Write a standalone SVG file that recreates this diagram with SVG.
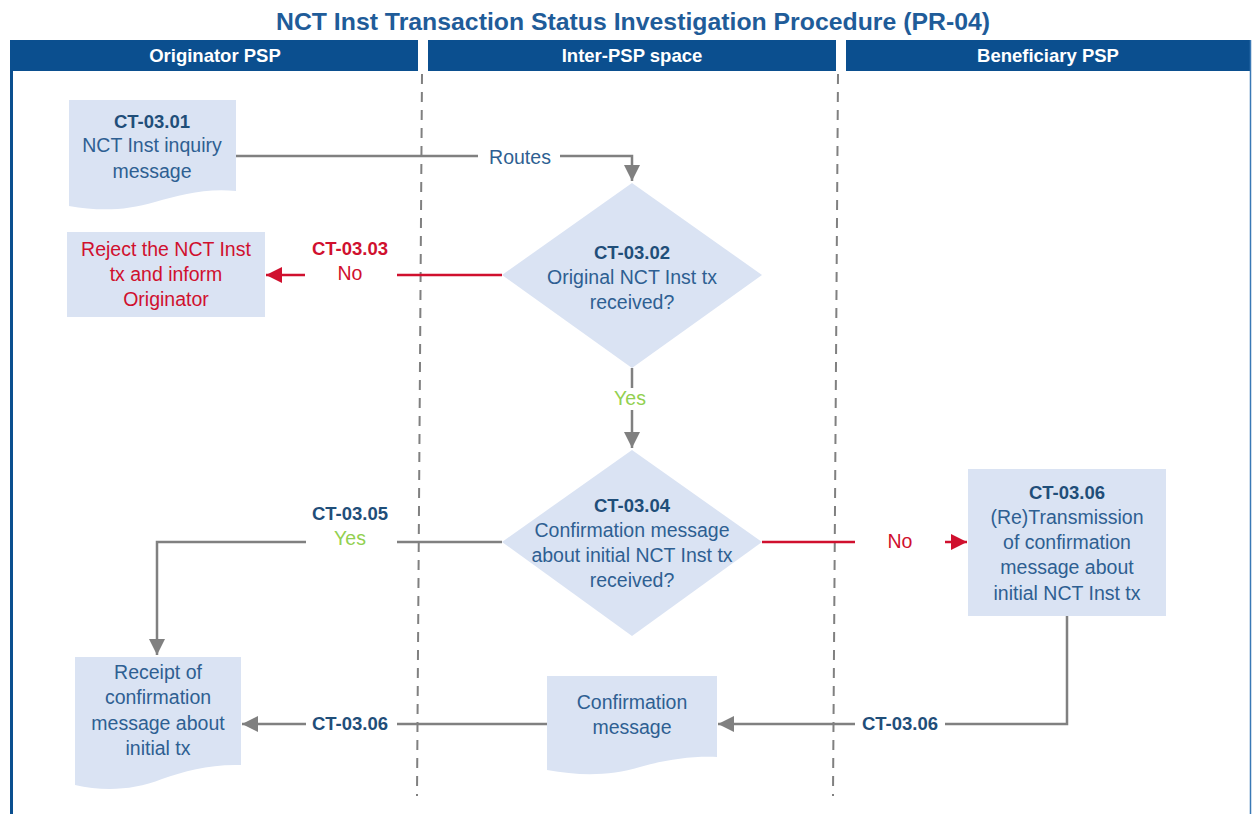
<svg xmlns="http://www.w3.org/2000/svg" width="1253" height="814" viewBox="0 0 1253 814">
<defs>
<style>
text{font-family:"Liberation Sans",Arial,sans-serif;text-anchor:middle;}
.t{font-size:19.5px;fill:#2e5f92;}
.id{font-size:18.5px;font-weight:bold;fill:#1f4e79;}
.red{font-size:19.5px;fill:#d0102e;}
.redb{font-size:18.5px;font-weight:bold;fill:#d0102e;}
.grn{font-size:19.5px;fill:#92d050;}
.hdr{font-size:18.5px;font-weight:bold;fill:#ffffff;}
.node{fill:#dae3f3;}
.gl{stroke:#808080;stroke-width:2.5;fill:none;}
.rl{stroke:#d0102e;stroke-width:2.5;fill:none;}
.lane{stroke:#808080;stroke-width:2;stroke-dasharray:10 8;fill:none;}
</style>
<marker id="ag" viewBox="0 0 10 10" refX="10" refY="5" markerWidth="6.5" markerHeight="6.5" markerUnits="strokeWidth" orient="auto"><path d="M0,0 L10,5 L0,10 Z" fill="#808080"/></marker>
<marker id="ar" viewBox="0 0 10 10" refX="10" refY="5" markerWidth="6.5" markerHeight="6.5" markerUnits="strokeWidth" orient="auto"><path d="M0,0 L10,5 L0,10 Z" fill="#d0102e"/></marker>
</defs>
<rect width="1253" height="814" fill="#ffffff"/>
<text x="633" y="30" textLength="714" lengthAdjust="spacingAndGlyphs" style="font-size:24px;font-weight:bold;fill:#1f5c99">NCT Inst Transaction Status Investigation Procedure (PR-04)</text>
<g id="frame">
<rect x="10" y="40" width="408" height="31" fill="#0b4f8f"/>
<rect x="428" y="40" width="408" height="31" fill="#0b4f8f"/>
<rect x="846" y="40" width="405" height="31" fill="#0b4f8f"/>
<line x1="11.5" y1="40" x2="11.5" y2="814" stroke="#0b4f8f" stroke-width="3"/>
<line x1="1250.5" y1="40" x2="1250.5" y2="814" stroke="#3a78b5" stroke-width="1.5"/>
<text class="hdr" x="215" y="62">Originator PSP</text>
<text class="hdr" x="632" y="62">Inter-PSP space</text>
<text class="hdr" x="1048" y="62">Beneficiary PSP</text>
<line class="lane" x1="422" y1="74" x2="417" y2="796"/>
<line class="lane" x1="838" y1="74" x2="833" y2="796"/>
</g>
<g id="connectors">
<polyline class="gl" points="236,156 478,156"/>
<polyline class="gl" points="560,156 632,156 632,181" marker-end="url(#ag)"/>
<text class="t" x="520" y="164">Routes</text>
<line class="rl" x1="502" y1="275" x2="397" y2="275"/>
<line class="rl" x1="305" y1="275" x2="266" y2="275" marker-end="url(#ar)"/>
<text class="redb" x="350" y="255">CT-03.03</text>
<text class="red" x="350" y="280">No</text>
<line class="gl" x1="632" y1="368" x2="632" y2="388"/>
<line class="gl" x1="632" y1="410" x2="632" y2="448" marker-end="url(#ag)"/>
<text class="grn" x="630" y="405">Yes</text>
<line class="gl" x1="502" y1="542" x2="397" y2="542"/>
<polyline class="gl" points="306,542 157,542 157,655" marker-end="url(#ag)"/>
<text class="id" x="350" y="520">CT-03.05</text>
<text class="grn" x="350" y="545">Yes</text>
<line class="rl" x1="762" y1="542" x2="855" y2="542"/>
<line class="rl" x1="945" y1="542" x2="967" y2="542" marker-end="url(#ar)"/>
<text class="red" x="900" y="548">No</text>
<polyline class="gl" points="1067,616 1067,724 945,724"/>
<line class="gl" x1="855" y1="724" x2="718" y2="724" marker-end="url(#ag)"/>
<text class="id" x="900" y="730">CT-03.06</text>
<line class="gl" x1="547" y1="724" x2="397" y2="724"/>
<line class="gl" x1="306" y1="724" x2="242" y2="724" marker-end="url(#ag)"/>
<text class="id" x="350" y="730">CT-03.06</text>
</g>
<g id="n1">
<path class="node" d="M69,100 H236 V191 C205,188 180,195 155,202 C125,211 98,211 69,206 Z"/>
<text class="id" x="152" y="128">CT-03.01</text>
<text class="t" x="152" y="152">NCT Inst inquiry</text>
<text class="t" x="152" y="178">message</text>
</g>
<g id="n2">
<polygon class="node" points="632,183 762,275 632,368 502,275"/>
<text class="id" x="632" y="259">CT-03.02</text>
<text class="t" x="632" y="284">Original NCT Inst tx</text>
<text class="t" x="632" y="309">received?</text>
</g>
<g id="n3">
<rect class="node" x="67" y="232" width="198" height="85"/>
<text class="red" x="166" y="256">Reject the NCT Inst</text>
<text class="red" x="166" y="281">tx and inform</text>
<text class="red" x="166" y="306">Originator</text>
</g>
<g id="n4">
<polygon class="node" points="632,450 762,542 632,636 502,542"/>
<text class="id" x="632" y="512">CT-03.04</text>
<text class="t" x="632" y="537">Confirmation message</text>
<text class="t" x="632" y="562">about initial NCT Inst tx</text>
<text class="t" x="632" y="587">received?</text>
</g>
<g id="n5">
<rect class="node" x="968" y="469" width="198" height="147"/>
<text class="id" x="1067" y="499">CT-03.06</text>
<text class="t" x="1067" y="524">(Re)Transmission</text>
<text class="t" x="1067" y="549">of confirmation</text>
<text class="t" x="1067" y="574">message about</text>
<text class="t" x="1067" y="600">initial NCT Inst tx</text>
</g>
<g id="n6">
<path class="node" d="M547,676 H717 V757 C690,756 665,760 640,767 C610,776 580,776 547,770 Z"/>
<text class="t" x="632" y="709">Confirmation</text>
<text class="t" x="632" y="734">message</text>
</g>
<g id="n7">
<path class="node" d="M75,657 H241 V765 C210,764 185,771 162,779 C132,791 102,791 75,785 Z"/>
<text class="t" x="158" y="679">Receipt of</text>
<text class="t" x="158" y="704">confirmation</text>
<text class="t" x="158" y="730">message about</text>
<text class="t" x="158" y="755">initial tx</text>
</g>
</svg>
